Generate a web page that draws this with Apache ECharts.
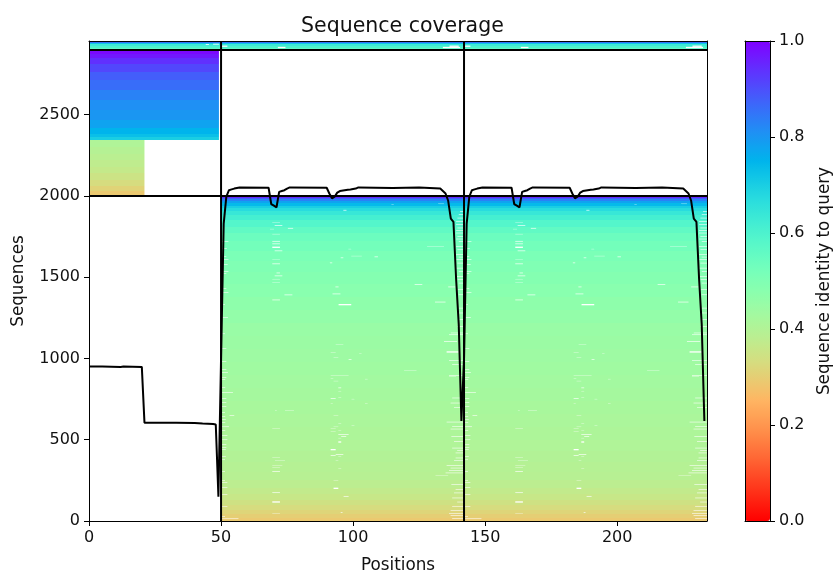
<!DOCTYPE html>
<html><head><meta charset="utf-8">
<style>html,body{margin:0;padding:0;background:#fff}#c{width:833px;height:574px;filter:blur(0.4px)}</style>
<script src="https://cdn.jsdelivr.net/npm/echarts@6/dist/echarts.min.js"></script>
</head><body><div id="c"></div>
<script>
// Identity bands: edges are sequence indices, identity[i] covers edges[i]..edges[i+1]
const mainEdges=[0,20,45,70,100,130,165,200,250,300,360,430,500,580,660,740,820,900,980,1060,1140,1220,1300,1380,1460,1530,1600,1660,1720,1770,1810,1850,1880,1905,1925,1940,1955,1968,1980,1990,2000];
const mainIdentity=[.29,.30,.315,.33,.345,.36,.37,.38,.39,.395,.40,.405,.41,.415,.42,.425,.43,.435,.44,.445,.45,.46,.47,.48,.49,.50,.51,.525,.54,.56,.585,.615,.64,.67,.70,.74,.78,.83,.88,.95];
const shortEdges=[2000,2030,2060,2100,2140,2180,2220,2260,2300,2345];
const shortIdentity=[.29,.31,.33,.35,.365,.375,.385,.395,.405];
const chainEdges=[2345,2360,2380,2420,2470,2530,2590,2650,2710,2760,2810,2850,2875,2898];
const chainIdentity=[.70,.73,.75,.78,.80,.81,.83,.86,.88,.91,.94,.97,.99];
const topEdges=[2898,2910,2922,2934,2942,2948,2953];
const topIdentity=[.57,.60,.63,.72,.85,.98];
const chainStarts=[50,142];
// White gaps, in chain-relative positions: [sequence, from, to]
const gapsLeft=[[1717,0,2.8],[1674,0,2.2],[1625,0,2],[1606,0,2.8],[1575,0,2.5],[1532,0,2.8],[1520,0,2],[1428,0,2],[1403,0,2.8],[1329,0,1.5],[1249,0,2.6],[1150,0,1.5],[1060,0,2],[980,0,2],[929,0,2],[911,0,2.6],[880,0,2],[868,0,1.6],[818,0,1.6],[788,0,4.5],[751,0,2],[726,0,2],[702,0,2],[665,0,1.5],[640,0,1.6],[622,0,1.8],[603,0,1.6],[578,0,3],[554,0,1.6],[523,0,2.4],[498,0,2.4],[468,0,2],[449,0,2],[437,0,1.8],[394,0,1.8],[375,0,1.5],[302,0,1.5],[246,0,1.5],[234,0,2.4],[203,0,2.4],[160,0,2.4],[86,0,2.4],[25,0,1.5],[12,0,6.6],[646,3.2,5]];
const gapsRight=[[1903,90.5,92],[1883,90,92],[1862,89.5,92],[1842,89,92],[1821,89,92],[1801,89.5,92],[1786,89,92],[1770,89,92],[1749,89.5,92],[1733,89,92],[1719,90,92],[1688,89,92],[1667,89.5,92],[1637,89,92],[1622,90,92],[1606,89,92],[1585,89.5,92],[1554,89,92],[1534,90,92],[1503,89,92],[1483,89.5,92],[1462,90,92],[1421,89.5,92],[1390,90,92],[1308,90,92],[1278,89.5,92],[1237,90,92],[1196,89.5,92],[1155,87,92],[1144,86.3,92],[985,86.3,92],[960,87.5,92],[893,86.3,92],[755,87.5,92],[724,86.9,92],[698,88.2,92],[607,85.4,92],[581,87.5,92],[564,86.9,92],[519,87.2,92],[488,88.2,92],[447,87.5,92],[433,89.4,92],[417,88.8,92],[386,88.8,92],[369,88.2,92],[339,85.4,92],[324,86.9,92],[308,86.3,92],[294,85,92],[222,87.2,92],[191,88.8,92],[171,88.2,92],[140,87.5,92],[115,89.4,92],[89,87.5,92],[64,86.9,92],[43,86.3,92],[31,86.9,92],[13,87.5,92]];
const gapsThin=[[1817,20.3,23.2],[1799,25.3,27.3],[1719,19.4,22.3],[1703,19.4,22.3],[1660,20.3,23.2],[1580,19.4,22.3],[1524,21,22.3],[1506,20.3,23.2],[1389,24,27],[1358,19.4,22.3],[1910,46.3,47.5],[1617,45.3,46.3],[1623,58.1,59.4],[1586,41.2,42.1],[1438,43.3,44.5],[1395,42.2,45.2],[817,44.4,45.5],[991,48.3,49.4],[751,41.5,43.4],[529,44.4,48.3],[517,45.5,47.4],[408,43.4,46.3],[400,41.5,43.4],[303,19.4,22.3],[172,19.4,22.3],[150,46.4,48.3],[51,45.3,46],[1452,73.3,76.2],[1345,81,85],[1438,86,88.8],[1103,84.4,89.4]];
const gapsFaint=[[1836,19.4,22.3],[1795,18.5,20.1],[1764,19.4,22.3],[1610,19.4,22.3],[1487,19.4,22.3],[1467,19.4,22.3],[1947,64.5,65.4],[1672,48.2,49.3],[1629,49.3,53.3],[1087,43.4,46.3],[1036,41.5,43.4],[1005,42.6,44.4],[1028,52.3,53.2],[892,41.5,48.3],[876,41.5,42.5],[860,42.6,44.4],[872,54.5,55.5],[798,44.4,45.5],[757,44.4,45.5],[749,49.4,50.5],[720,54.5,55.5],[720,41.5,42.3],[646,42.6,44.4],[597,44.4,45.5],[585,49.4,50.5],[578,42.6,44.4],[566,41.5,43.4],[558,44.4,45.5],[548,41.5,43.4],[509,44.4,45.5],[371,43.4,44.4],[396,44.4,45.5],[322,44.4,45.5],[248,42.6,44.4],[677,20.4,21.1],[677,24.2,27.6],[568,19.4,22.3],[388,19.4,22.3],[373,20.4,24.2],[340,19.4,23.2],[328,19.4,22.3],[45,19.4,22.3],[1950,82.2,84.4],[1688,78,84.4],[923,69.3,74],[279,81.2,86],[888,86.3,89]];
const gapsThick=[[1680,19.4,22.3],[1327,44.5,49.3],[482,44.4,45.5],[435,41.5,43.4],[197,42.6,44.4],[113,19.4,22.3],[1036,85.4,90],[2909,21.5,24.4],[2917,0,2.4],[2909,84,90.5],[2917,86.5,90]];
const gapsFirstChain=[[2929,44.2,45.4],[2931,47,49.2]];
// Coverage line
const covX=[0,5,12,13,20,21,33,40,43,47,48,49,50,51,52,53,54,55,57,68,69,70,71,72,73,74,75,76,90,91,92,93,94,95,98,99,101,102,115,125,133,134,135,136,137,138,139,140,141,142,143,144,145,146,147,149,160,161,162,163,164,165,166,167,168,182,183,184,185,186,187,190,191,193,194,207,217,225,226,227,228,229,230,231,232,233];
const covY=[950,950,948,950,948,605,605,603,600,597,594,150,1000,1830,1995,2035,2040,2045,2052,2050,1950,1940,1930,2025,2030,2035,2045,2052,2050,2015,1985,1995,2020,2030,2038,2040,2045,2052,2048,2052,2045,2030,2015,1970,1860,1840,1490,1210,615,1000,1830,1995,2035,2040,2045,2052,2050,1950,1940,1930,2025,2030,2035,2045,2052,2050,2015,1985,1995,2020,2030,2038,2040,2045,2052,2048,2052,2045,2030,2015,1970,1860,1840,1490,1210,615];
const chainLinesX=[50,142];
const chainLinesY=[2000,2898];
const xTicks=[0,50,100,150,200];
const yTicks=[0,500,1000,1500,2000,2500];
const cbTicks=[0,0.2,0.4,0.6,0.8,1];
const X_MAX=234,Y_MAX=2953;

function rainbowR(v){const x=1-v;const c=n=>Math.round(255*Math.min(1,Math.max(0,n))).toString(16).padStart(2,'0');
 return '#'+c(Math.abs(2*x-.5))+c(Math.sin(Math.PI*x))+c(Math.cos(Math.PI*x/2));}
const stops=[];for(let i=0;i<=64;i++)stops.push(rainbowR(i/64));

const bands=[];
function addBands(edges,ids,x0,x1){ids.forEach((v,i)=>bands.push([edges[i],edges[i+1],x0,x1,v]));}
addBands(mainEdges,mainIdentity,50,X_MAX);
addBands(shortEdges,shortIdentity,0,21);
addBands(chainEdges,chainIdentity,0,49.2);
addBands(topEdges,topIdentity,0,X_MAX);

const gaps=[];
function addGaps(list,rows){list.forEach(g=>chainStarts.forEach(s=>gaps.push([g[0],g[0]+rows,s+g[1],s+g[2]])));}
addGaps(gapsLeft,3.5);addGaps(gapsRight,3.5);addGaps(gapsThin,4);addGaps(gapsFaint,2);addGaps(gapsThick,8);
gapsFirstChain.forEach(g=>gaps.push([g[0],g[0]+5,g[1],g[2]]));

const font='"DejaVu Sans"',FS=16,NFS=16.8;
const plain=v=>String(v);
function rectItem(params,api,snap){
 const a=api.coord([api.value(2),api.value(0)]),b=api.coord([api.value(3),api.value(1)]);
 let y0=a[1],y1=b[1];if(snap){y0=Math.round(y0);y1=Math.round(y1);}
 return {type:'rect',shape:{x:a[0],y:y1,width:b[0]-a[0],height:y0-y1},
  style:{fill:snap?api.visual('color'):'#fff'}};
}
const axisCommon={z:10,axisLine:{show:true,onZero:false,lineStyle:{color:'#000',width:1}},
 axisTick:{length:5,lineStyle:{color:'#000',width:1}},splitLine:{show:false},
 axisLabel:{color:'#111',fontFamily:font,fontSize:FS}};
const blank={show:true,z:10,axisLine:{show:true,onZero:false,lineStyle:{color:'#000',width:1}},axisTick:{show:false},axisLabel:{show:false},splitLine:{show:false}};

const chart=echarts.init(document.getElementById('c'),null,{renderer:'canvas'});
chart.setOption({
 animation:false,backgroundColor:'#fff',
 title:{text:'Sequence coverage',left:296,top:11,textStyle:{fontFamily:font,fontSize:20.5,fontWeight:'normal',color:'#111'}},
 grid:[{outerBoundsMode:'none',left:89,top:41,width:618,height:480},{outerBoundsMode:'none',left:745,top:41,width:25,height:480}],
 visualMap:{type:'continuous',min:0,max:1,dimension:4,seriesIndex:0,left:745,top:41,itemWidth:25,itemHeight:480,padding:0,calculable:false,hoverLink:false,text:null,inRange:{color:stops},z:1,showLabel:false},
 xAxis:[
  Object.assign({},axisCommon,{type:'value',gridIndex:0,min:0,max:X_MAX,position:'bottom',name:'Positions',nameLocation:'middle',nameGap:36,nameTextStyle:{fontFamily:font,fontSize:NFS,color:'#111'},
   axisTick:Object.assign({},axisCommon.axisTick,{customValues:xTicks}),axisLabel:Object.assign({},axisCommon.axisLabel,{customValues:xTicks,margin:9,formatter:plain})}),
  Object.assign({},blank,{type:'value',gridIndex:0,min:0,max:X_MAX,position:'top'}),
  Object.assign({},blank,{type:'value',gridIndex:1,min:0,max:1,position:'bottom'}),
  Object.assign({},blank,{type:'value',gridIndex:1,min:0,max:1,position:'top'})
 ],
 yAxis:[
  Object.assign({},axisCommon,{type:'value',gridIndex:0,min:0,max:Y_MAX,position:'left',name:'Sequences',nameLocation:'middle',nameRotate:90,nameGap:62,nameTextStyle:{fontFamily:font,fontSize:NFS,color:'#111'},
   axisTick:Object.assign({},axisCommon.axisTick,{customValues:yTicks}),axisLabel:Object.assign({},axisCommon.axisLabel,{customValues:yTicks,margin:9,formatter:plain})}),
  Object.assign({},blank,{type:'value',gridIndex:0,min:0,max:Y_MAX,position:'right'}),
  Object.assign({},axisCommon,{type:'value',gridIndex:1,min:0,max:1,position:'right',name:'Sequence identity to query',nameLocation:'middle',nameRotate:90,nameGap:46,nameTextStyle:{fontFamily:font,fontSize:NFS,color:'#111'},
   axisTick:Object.assign({},axisCommon.axisTick,{customValues:cbTicks}),axisLabel:Object.assign({},axisCommon.axisLabel,{customValues:cbTicks,margin:9,formatter:v=>v.toFixed(1)})}),
  Object.assign({},blank,{type:'value',gridIndex:1,min:0,max:1,position:'left'})
 ],
 series:[
  {type:'custom',z:2,xAxisIndex:0,yAxisIndex:0,silent:true,data:bands,encode:{x:[2,3],y:[0,1]},renderItem:(p,a)=>rectItem(p,a,true)},
  {type:'custom',z:3,xAxisIndex:0,yAxisIndex:0,silent:true,data:gaps,encode:{x:[2,3],y:[0,1]},renderItem:(p,a)=>rectItem(p,a,false)},
  ...chainLinesX.map(v=>({type:'line',z:4,xAxisIndex:0,yAxisIndex:0,symbol:'none',silent:true,data:[[v,0],[v,Y_MAX]],lineStyle:{color:'#000',width:2}})),
  ...chainLinesY.map(v=>({type:'line',z:4,xAxisIndex:0,yAxisIndex:0,symbol:'none',silent:true,data:[[0,v],[X_MAX,v]],lineStyle:{color:'#000',width:2}})),
  {type:'line',z:5,xAxisIndex:0,yAxisIndex:0,symbol:'none',silent:true,data:covX.map((x,i)=>[x,covY[i]]),lineStyle:{color:'#000',width:2}}
 ]
});
</script></body></html>
